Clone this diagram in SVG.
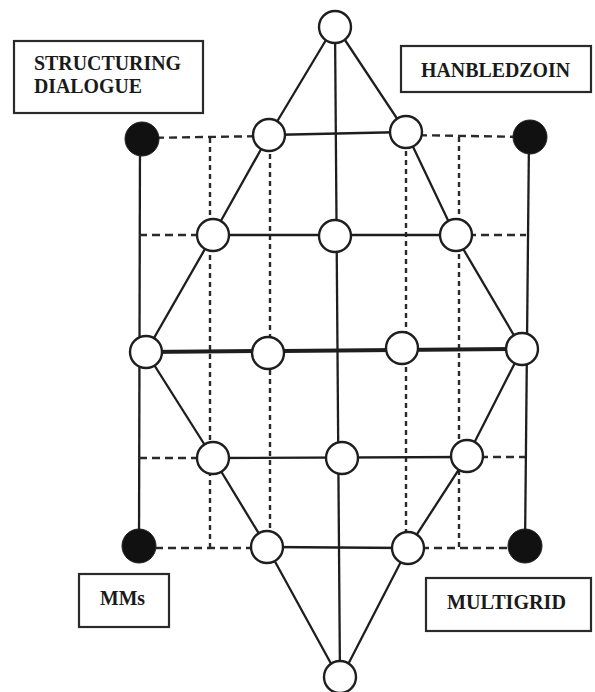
<svg xmlns="http://www.w3.org/2000/svg" width="595" height="692" viewBox="0 0 595 692">
<style>
.s{stroke:#1e1e1e;stroke-width:2.3;fill:none}
.t{stroke:#1e1e1e;stroke-width:4;fill:none}
.dh{stroke:#2a2a2a;stroke-width:2.4;fill:none;stroke-dasharray:8 5}
.dv{stroke:#2a2a2a;stroke-width:2.4;fill:none;stroke-dasharray:5 4}
.n{fill:#fff;stroke:#1e1e1e;stroke-width:2.4}
.f{fill:#111;stroke:#222;stroke-width:1}
.b{fill:#fff;stroke:#2a2a2a;stroke-width:2.2}
.l{font-family:"Liberation Serif",serif;font-weight:bold;font-size:22px;fill:#1a1a1a}
</style>
<rect width="595" height="692" fill="#fff"/>
<g id="connectors">
  <line class="dv" x1="210" y1="138" x2="210" y2="547"/>
  <line class="dv" x1="270" y1="136" x2="270" y2="547"/>
  <line class="dv" x1="406" y1="133" x2="406" y2="548"/>
  <line class="dv" x1="459" y1="137" x2="459" y2="547"/>
  <line class="s" x1="140" y1="139" x2="139" y2="546"/>
  <line class="s" x1="529" y1="137" x2="525" y2="547"/>
  <line class="dh" x1="143" y1="138" x2="269" y2="136"/>
  <line class="s" x1="269" y1="135" x2="406" y2="132"/>
  <line class="dh" x1="406" y1="135" x2="530" y2="137"/>
  <line class="dh" x1="139" y1="235" x2="213" y2="235"/>
  <line class="s" x1="213" y1="235" x2="455" y2="235"/>
  <line class="dh" x1="455" y1="235" x2="526" y2="235"/>
  <line class="t" x1="146" y1="352" x2="522" y2="349"/>
  <line class="dh" x1="139" y1="458" x2="213" y2="458"/>
  <line class="s" x1="213" y1="458" x2="467" y2="457"/>
  <line class="dh" x1="467" y1="457" x2="525" y2="457"/>
  <line class="dh" x1="142" y1="548" x2="267" y2="548"/>
  <line class="s" x1="267" y1="547" x2="408" y2="548"/>
  <line class="dh" x1="408" y1="548" x2="525" y2="548"/>
  <line class="s" x1="335" y1="25" x2="340" y2="680"/>
  <polyline class="s" points="335,25 269,135 213,235 146,352 213,458 267,547 340,680"/>
  <polyline class="s" points="335,25 406,132 455,235 522,349 467,457 408,548 340,680"/>
</g>
<g id="n-top"><circle class="n" cx="335" cy="27" r="16"/></g>
<g id="n-r1a"><circle class="n" cx="269" cy="135" r="16"/></g>
<g id="n-r1b"><circle class="n" cx="406" cy="132" r="16"/></g>
<g id="n-r2a"><circle class="n" cx="213" cy="235" r="16"/></g>
<g id="n-r2b"><circle class="n" cx="335" cy="236" r="16"/></g>
<g id="n-r2c"><circle class="n" cx="456" cy="235" r="16"/></g>
<g id="n-r3a"><circle class="n" cx="146" cy="352" r="16"/></g>
<g id="n-r3b"><circle class="n" cx="268" cy="353" r="16"/></g>
<g id="n-r3c"><circle class="n" cx="402" cy="348" r="16"/></g>
<g id="n-r3d"><circle class="n" cx="522" cy="349" r="16"/></g>
<g id="n-r4a"><circle class="n" cx="213" cy="458" r="16"/></g>
<g id="n-r4b"><circle class="n" cx="342" cy="458" r="16"/></g>
<g id="n-r4c"><circle class="n" cx="467" cy="456" r="16"/></g>
<g id="n-r5a"><circle class="n" cx="267" cy="547" r="16"/></g>
<g id="n-r5b"><circle class="n" cx="408" cy="548" r="16"/></g>
<g id="n-bottom"><circle class="n" cx="340" cy="677" r="16"/></g>
<g id="d-tl"><circle class="f" cx="142" cy="139" r="17"/></g>
<g id="d-tr"><circle class="f" cx="530" cy="137" r="17"/></g>
<g id="d-bl"><circle class="f" cx="139" cy="546" r="17"/></g>
<g id="d-br"><circle class="f" cx="525" cy="546" r="17"/></g>
<g id="lbl-structuring">
  <rect class="b" x="14" y="41" width="189" height="72"/>
  <text class="l" x="34" y="70" textLength="147" lengthAdjust="spacingAndGlyphs">STRUCTURING</text>
  <text class="l" x="34" y="93" textLength="108" lengthAdjust="spacingAndGlyphs">DIALOGUE</text>
</g>
<g id="lbl-hanbledzoin">
  <rect class="b" x="401" y="46" width="190" height="46"/>
  <text class="l" x="421" y="77" textLength="149" lengthAdjust="spacingAndGlyphs">HANBLEDZOIN</text>
</g>
<g id="lbl-mms">
  <rect class="b" x="79" y="574" width="90" height="53"/>
  <text class="l" x="100" y="605" textLength="45" lengthAdjust="spacingAndGlyphs">MMs</text>
</g>
<g id="lbl-multigrid">
  <rect class="b" x="426" y="578" width="165" height="53"/>
  <text class="l" x="447" y="609" textLength="119" lengthAdjust="spacingAndGlyphs">MULTIGRID</text>
</g>
</svg>
